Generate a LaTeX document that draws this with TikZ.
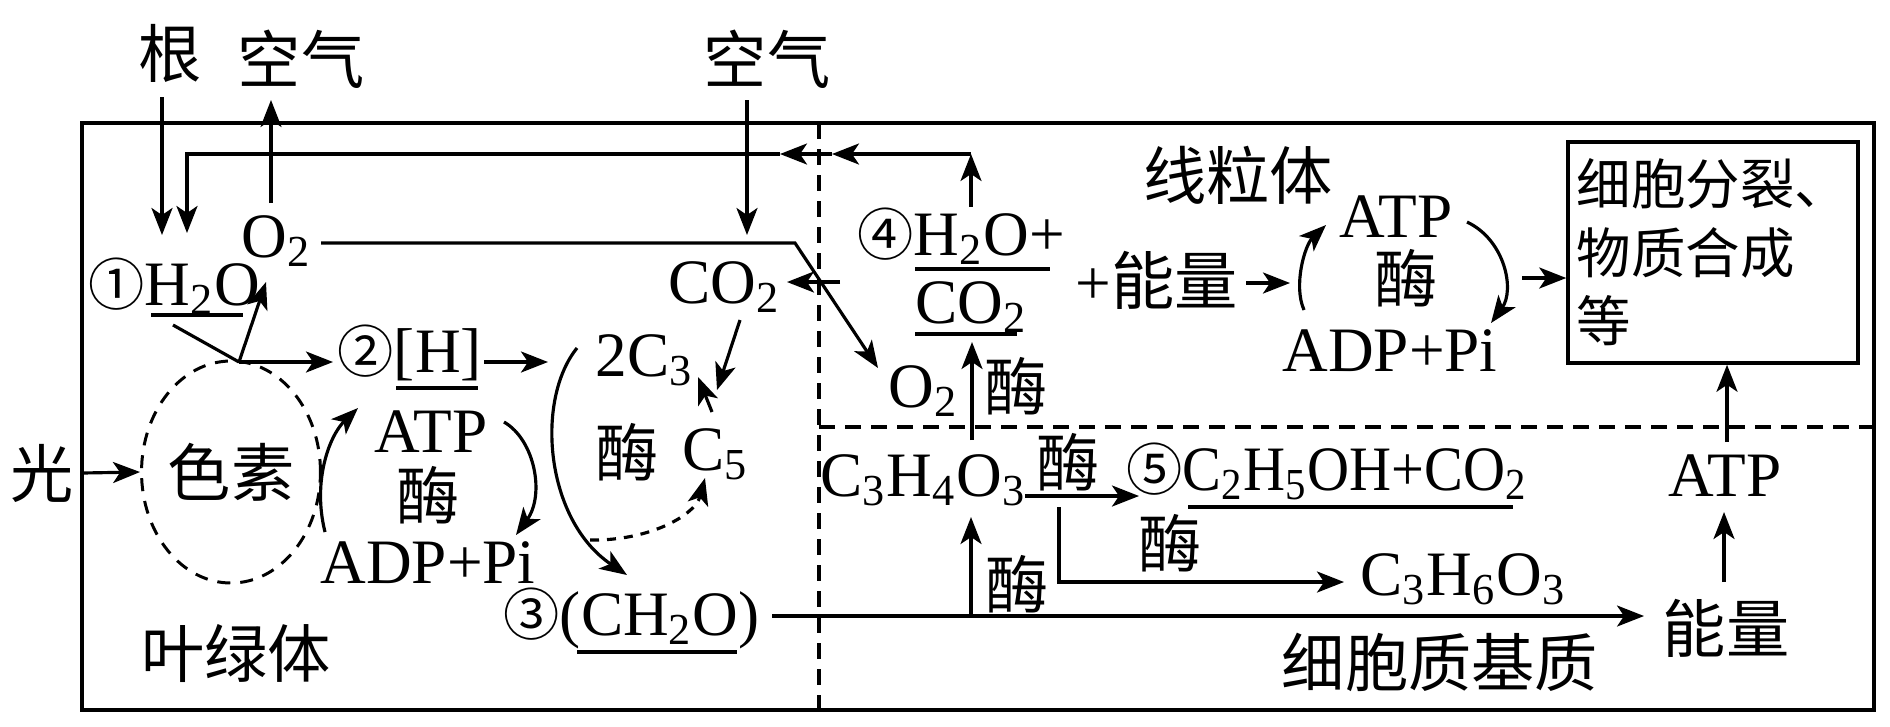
\documentclass[tikz,border=0pt]{standalone}
\usepackage{fontspec}
\setmainfont{Liberation Serif}
\newfontfamily\cjk{Noto Sans CJK SC}
\usetikzlibrary{arrows.meta,shapes.geometric}
\newcommand{\subn}[1]{\textsubscript{#1}}
\newcommand{\circn}[1]{{\fontsize{16}{20}\selectfont\cjk #1}}

\begin{document}
\begin{tikzpicture}[x=0.1mm, y=-0.1mm,
    every node/.style={inner sep=0pt, font=\fontsize{18}{22}\selectfont},
    zh/.style={font=\fontsize{18}{22}\selectfont\cjk},
    arr/.style={line width=0.9pt, -{Stealth[length=2.7mm, width=2.1mm, inset=0.7mm]}},
    link/.style={line width=0.9pt},
    blank/.style={line width=1pt},
    part/.style={line width=1pt, dash pattern=on 1.6mm off 1mm},
    pigment/.style={zh, draw, ellipse, line width=0.85pt, dash pattern=on 1.3mm off 1mm,
        minimum width=16mm, minimum height=22.2mm},
    task/.style={draw, line width=1pt, minimum width=29mm, minimum height=22.1mm,
        align=left, font=\fontsize{15.5}{19.5}\selectfont\cjk}]
    \useasboundingbox (0,0) rectangle (1890,726);

    % cell and compartments
    \draw[line width=1.3pt] (82,123) rectangle (1874,710);
    \draw[part] (819,123) -- (819,710);
    \draw[part] (819,427) -- (1874,427);

    % chloroplast
    \node[zh] (gen) at (170,53) {根};
    \node[zh] (airL) at (301,59) {空气};
    \node[zh] (airR) at (767,59) {空气};
    \node[zh] (guang) at (42,473) {光};
    \node[pigment] (pig) at (231,472) {色素};
    \node[zh] (ylt) at (236,653) {叶绿体};
    \node[anchor=base west] (h2o) at (88,305) {\circn{①}H\subn{2}O};
    \node[anchor=base west] (o2a) at (241,257) {O\subn{2}};
    \node[anchor=base west] (hh) at (337,372) {\circn{②}[H]};
    \node[anchor=base] (atpL) at (431,452) {ATP};
    \node[zh] (enzL) at (428,495) {酶};
    \node[anchor=base] (adpL) at (428,583) {ADP+Pi};
    \node[anchor=base west] (c3) at (595,376) {2C\subn{3}};
    \node[anchor=base west] (co2L) at (668,303) {CO\subn{2}};
    \node[zh] (enzC) at (627,452) {酶};
    \node[anchor=base west] (c5) at (682,470) {C\subn{5}};
    \node[anchor=base west] (ch2o) at (503,635) {\circn{③}(CH\subn{2}O)};

    % mitochondrion
    \node[zh] (xlt) at (1238,175) {线粒体};
    \node[anchor=base west] (h2oR) at (857,255) {\circn{④}H\subn{2}O+};
    \node[anchor=base west] (co2R) at (915,323) {CO\subn{2}};
    \node[anchor=base west] (o2b) at (888,407) {O\subn{2}};
    \node[zh] (enzO) at (1016,386) {酶};
    \node (energy) at (1157,280) {+{\cjk 能量}};
    \node[anchor=base] (atpM) at (1396,237) {ATP};
    \node[zh] (enzM) at (1406,278) {酶};
    \node[anchor=base] (adpM) at (1390,371) {ADP+Pi};
    \node[task] (use) at (1713,252.5) {细胞分裂、\\物质合成\\等};

    % cytoplasm
    \node[anchor=base west] (pyr) at (820,496) {C\subn{3}H\subn{4}O\subn{3}};
    \node[zh] (enzP) at (1068,462) {酶};
    \node[anchor=base west] (eth) at (1126,490) {\circn{⑤}\scalebox{0.92}[1]{C\subn{2}H\subn{5}OH+CO\subn{2}}};
    \node[zh] (enzE) at (1170,543) {酶};
    \node[anchor=base west] (lac) at (1360,595) {C\subn{3}H\subn{6}O\subn{3}};
    \node[zh] (enzG) at (1017,584) {酶};
    \node[anchor=base] (atpB) at (1725,496) {ATP};
    \node[zh] (energyB) at (1726,628) {能量};
    \node[zh] (xbz) at (1440,662) {细胞质基质};

    % blanks
    \draw[blank] (151,315) -- (243,315);
    \draw[blank] (396,388) -- (478,388);
    \draw[blank] (577,652) -- (737,652);
    \draw[blank] (915,269) -- (1050,269);
    \draw[blank] (915,334) -- (1017,334);
    \draw[blank] (1188,507) -- (1513,507);

    % water, light reaction
    \coordinate (split) at (239,362);
    \coordinate (loopR) at (971,154);
    \coordinate (loopL) at (187,154);
    \draw[arr] (162,97) -- (162,235);
    \draw[arr] (h2oR.north -| loopR) -- (loopR);
    \draw[arr] (loopR) -- (832,154);
    \draw[arr] (832,154) -- (780,154);
    \draw[arr] (780,154) -- (loopL) -- (187,233);
    \draw[arr] (82,473) -- (pig.west);
    \draw[link] (173,325) -- (split);
    \draw[arr] (split) -- (266,282);
    \draw[arr] (split) -- (333,362);
    \draw[arr] (271,203) -- (271,100);
    \draw[arr] (484,362) -- (548,362);
    \draw[arr] (325,532) .. controls (312,480) and (330,435) .. (358,408);
    \draw[arr] (504,422) .. controls (535,440) and (545,495) .. (516,535);

    % dark reaction
    \draw[arr] (747,100) -- (747,235);
    \draw[arr] (740,320) -- (717,390);
    \draw[arr] (712,412) -- (698,377);
    \draw[arr] (577,348) .. controls (535,400) and (545,520) .. (627,575);
    \draw[arr, dash pattern=on 0.9mm off 0.8mm] (590,540) .. controls (650,541) and (695,515) .. (705,478);
    \draw[arr] (321,243) -- (795,243) -- (878,368);
    \draw[arr] (840,282) -- (787,282);

    % respiration
    \draw[arr] (972,440) -- (972,342);
    \draw[arr] (772,616) -- (1644,616);
    \draw[arr] (971,616) -- (971,517);
    \draw[arr] (1025,496) -- (1139,496);
    \draw[arr] (1059,507) -- (1059,582) -- (1344,582);
    \draw[arr] (1246,283) -- (1290,283);
    \draw[arr] (1304,310) .. controls (1293,285) and (1305,245) .. (1326,225);
    \draw[arr] (1467,222) .. controls (1505,240) and (1515,290) .. (1491,323);
    \draw[arr] (1522,278) -- (use.west |- 0,278);
    \draw[arr] (1724,582) -- (1724,512);
    \draw[arr] (1727,442) -- (use.south -| 1727,0);
\end{tikzpicture}
\end{document}
